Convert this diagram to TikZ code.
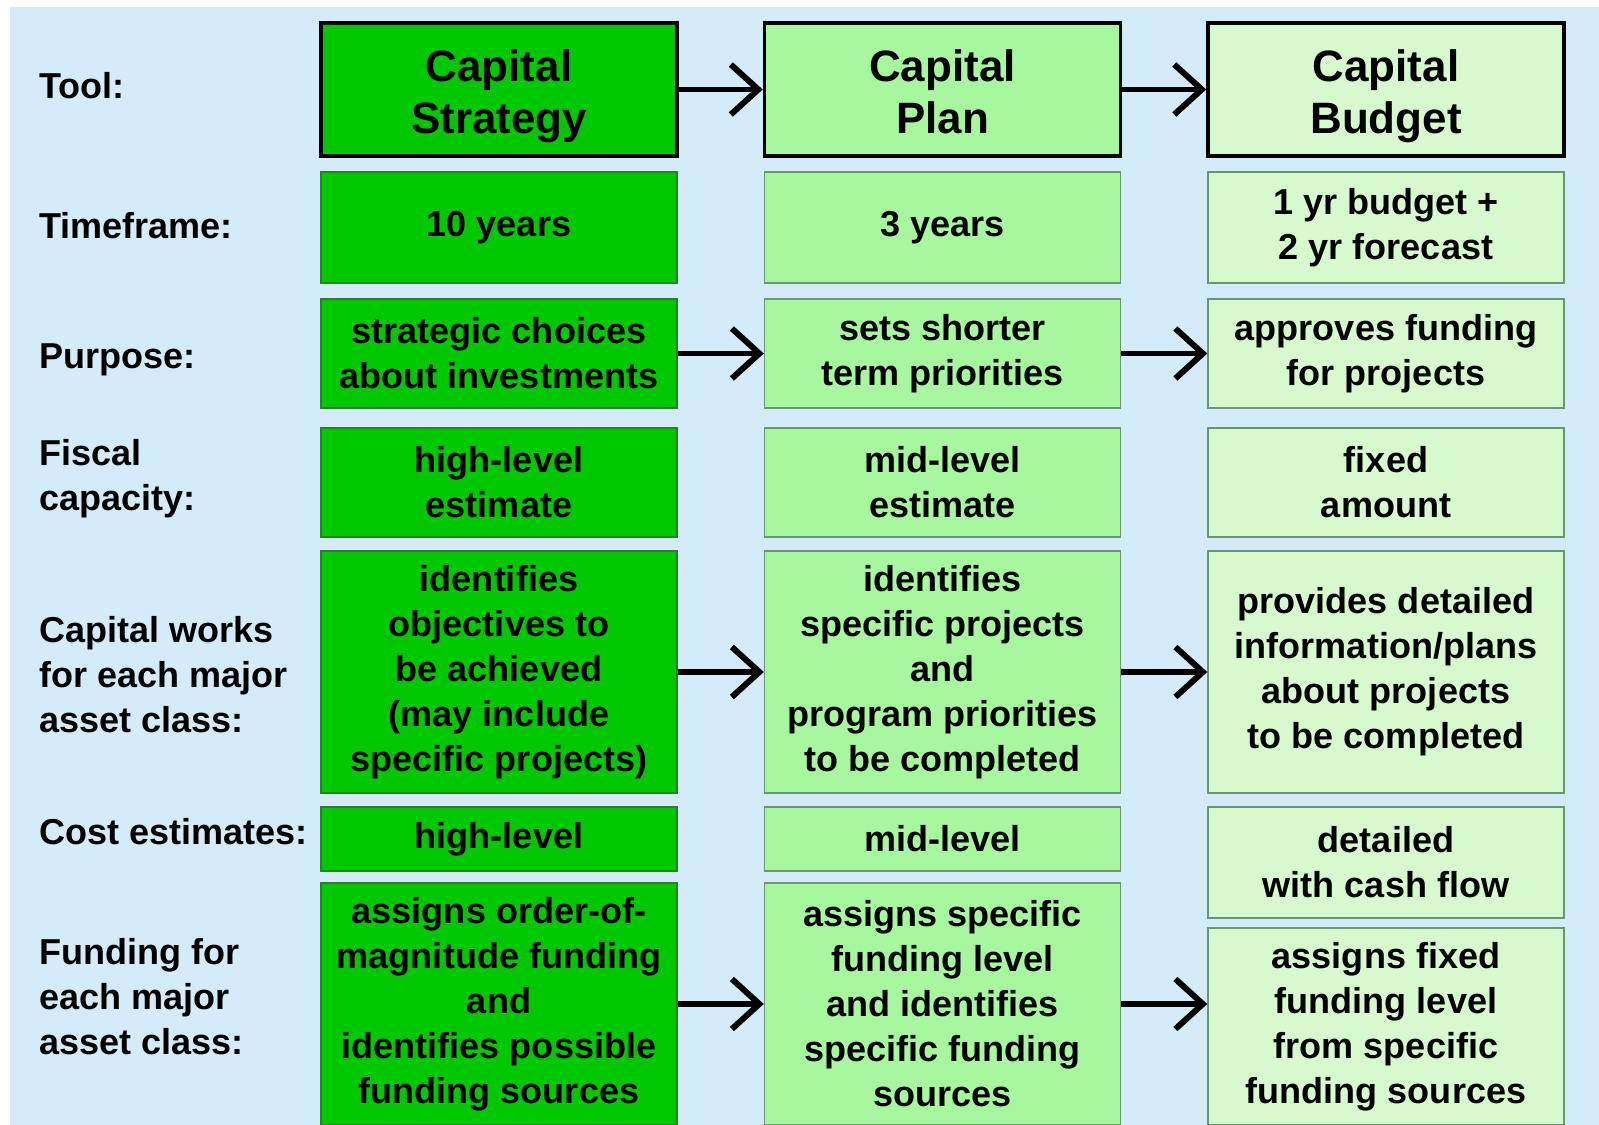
\documentclass[tikz,border=0pt]{standalone}
\usepackage{fontspec}
\setmainfont{Liberation Sans}
\usetikzlibrary{arrows.meta}
\definecolor{bgblue}{RGB}{212,236,250}
\definecolor{stratgreen}{RGB}{0,200,0}
\definecolor{plangreen}{RGB}{166,247,158}
\definecolor{budgetgreen}{RGB}{214,250,206}
\definecolor{stratedge}{RGB}{40,130,40}
\definecolor{lightedge}{RGB}{105,150,115}
\newcommand{\headstrut}{\rule{0pt}{26.5pt}}
\newcommand{\headdepth}{\rule[-6pt]{0pt}{6pt}}
\begin{document}
\begin{tikzpicture}[x=1cm,y=1cm,
  every node/.style={font={\bfseries\fontsize{20.5}{25.6}\selectfont}, align=center, inner sep=0pt},
  cell/.style={draw, line width=0.8pt, minimum width=7.12cm},
  stratbox/.style={cell, fill=stratgreen, draw=stratedge},
  planbox/.style={cell, fill=plangreen, draw=lightedge},
  budgetbox/.style={cell, fill=budgetgreen, draw=lightedge},
  headbox/.style={draw=black, line width=2pt, minimum height=2.66cm, font={\bfseries\fontsize{25}{30}\selectfont}},
  rowlabel/.style={anchor=west, align=left},
  flow/.style={line width=3.4pt, -{Straight Barb[length=0.55cm,width=1.0cm]}}]
\useasboundingbox (0,0) rectangle (31.98,-22.5);
\fill[bgblue] (0.2,-0.14) rectangle (31.98,-22.5);

% row labels
\node[rowlabel] (ltool) at (0.78,-1.72) {Tool:};
\node[rowlabel] (ltime) at (0.78,-4.52) {Timeframe:};
\node[rowlabel] (lpurp) at (0.78,-7.2) {Purpose:};
\node[rowlabel] (lfisc) at (0.78,-9.58) {Fiscal\\capacity:};
\node[rowlabel] (lworks) at (0.78,-13.5) {Capital works\\for each major\\asset class:};
\node[rowlabel] (lcost) at (0.78,-16.64) {Cost estimates:};
\node[rowlabel] (lfund) at (0.78,-19.94) {Funding for\\each major\\asset class:};

% strategy column
\node[stratbox, headbox] (stool) at (9.98,-1.79) {\headstrut Capital\\Strategy\headdepth};
\node[stratbox, minimum height=2.22cm] (stime) at (9.98,-4.55) {10 years};
\node[stratbox, minimum height=2.18cm] (spurp) at (9.98,-7.07) {strategic choices\\about investments};
\node[stratbox, minimum height=2.18cm] (sfisc) at (9.98,-9.65) {high-level\\estimate};
\node[stratbox, minimum height=4.84cm] (sworks) at (9.98,-13.44) {identifies\\objectives to\\be achieved\\(may include\\specific projects)};
\node[stratbox, minimum height=1.28cm] (scost) at (9.98,-16.78) {high-level};
\node[stratbox, minimum height=4.84cm] (sfund) at (9.98,-20.08) {assigns order-of-\\magnitude funding\\and\\identifies possible\\funding sources};

% plan column
\node[planbox, headbox] (ptool) at (18.85,-1.79) {\headstrut Capital\\Plan\headdepth};
\node[planbox, minimum height=2.22cm] (ptime) at (18.85,-4.55) {3 years};
\node[planbox, minimum height=2.18cm] (ppurp) at (18.85,-7.07) {sets shorter\\term priorities};
\node[planbox, minimum height=2.18cm] (pfisc) at (18.85,-9.65) {mid-level\\estimate};
\node[planbox, minimum height=4.84cm] (pworks) at (18.85,-13.44) {identifies\\specific projects\\and\\program priorities\\to be completed};
\node[planbox, minimum height=1.28cm] (pcost) at (18.85,-16.78) {mid-level};
\node[planbox, minimum height=4.84cm] (pfund) at (18.85,-20.08) {assigns specific\\funding level\\and identifies\\specific funding\\sources};

% budget column
\node[budgetbox, headbox] (btool) at (27.72,-1.79) {\headstrut Capital\\Budget\headdepth};
\node[budgetbox, minimum height=2.22cm] (btime) at (27.72,-4.55) {1 yr budget +\\2 yr forecast};
\node[budgetbox, minimum height=2.18cm] (bpurp) at (27.72,-7.07) {approves funding\\for projects};
\node[budgetbox, minimum height=2.18cm] (bfisc) at (27.72,-9.65) {fixed\\amount};
\node[budgetbox, minimum height=4.84cm] (bworks) at (27.72,-13.44) {provides detailed\\information/plans\\about projects\\to be completed};
\node[budgetbox, minimum height=2.22cm] (bcost) at (27.72,-17.25) {detailed\\with cash flow};
\node[budgetbox, minimum height=3.94cm] (bfund) at (27.72,-20.53) {assigns fixed\\funding level\\from specific\\funding sources};

% arrows
\draw[flow] (stool) -- (ptool);
\draw[flow] (ptool) -- (btool);
\draw[flow] (spurp) -- (ppurp);
\draw[flow] (ppurp) -- (bpurp);
\draw[flow] (sworks) -- (pworks);
\draw[flow] (pworks) -- (bworks);
\draw[flow] (sfund) -- (pfund);
\draw[flow] (pfund.east) -- (pfund.east -| bfund.west);
\end{tikzpicture}
\end{document}
